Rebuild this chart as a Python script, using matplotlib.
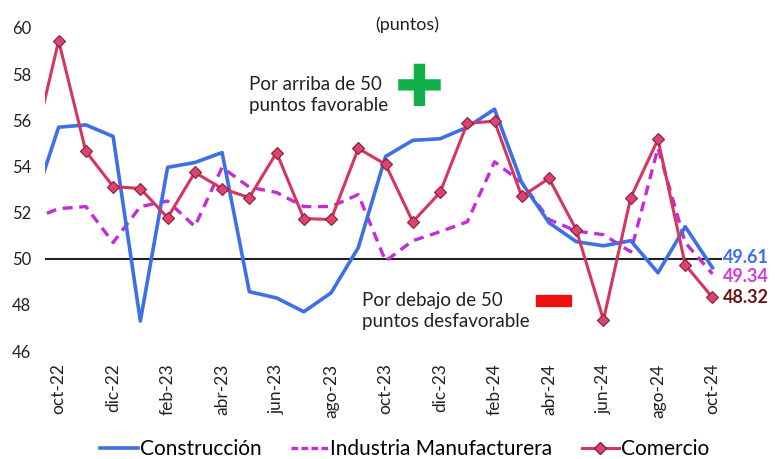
import matplotlib
matplotlib.use("Agg")
import matplotlib.pyplot as plt
from matplotlib.lines import Line2D
from matplotlib.patches import Rectangle

# monthly index, sep-22 .. oct-24 (sep-22 is clipped at the left edge)
months = ["sep-22", "oct-22", "nov-22", "dic-22", "ene-23", "feb-23", "mar-23", "abr-23",
          "may-23", "jun-23", "jul-23", "ago-23", "sep-23", "oct-23", "nov-23", "dic-23",
          "ene-24", "feb-24", "mar-24", "abr-24", "may-24", "jun-24", "jul-24", "ago-24",
          "sep-24", "oct-24"]

construccion = [52.1, 55.7, 55.8, 55.3, 47.3, 53.96, 54.17, 54.6, 48.57, 48.3, 47.7, 48.52,
                50.48, 54.43, 55.13, 55.2, 55.7, 56.48, 53.3, 51.56, 50.74, 50.56, 50.78,
                49.39, 51.39, 49.61]
industria = [51.7, 52.17, 52.26, 50.7, 52.26, 52.5, 51.4, 53.96, 53.1, 52.87, 52.26, 52.26,
             52.78, 49.9, 50.78, 51.17, 51.6, 54.2, 53.3, 51.7, 51.2, 51.04, 50.3, 54.8,
             50.7, 49.34]
comercio = [54.4, 59.45, 54.65, 53.13, 53.04, 51.78, 53.74, 53.04, 52.65, 54.6, 51.74, 51.7,
            54.78, 54.09, 51.6, 52.87, 55.87, 55.96, 52.7, 53.48, 51.26, 47.35, 52.65, 55.17,
            49.74, 48.32]

yticks = [46, 48, 50, 52, 54, 56, 58, 60]

C_BLUE = "#3d6fe6"
C_MAG = "#c62bd8"
C_RED = "#d5355f"

plt.rcParams["font.family"] = ["Lato", "DejaVu Sans"]

fig = plt.figure(figsize=(7.77, 4.59), dpi=100)
ax = fig.add_axes([45 / 777, 1 - 351 / 459, (722 - 45) / 777, (351 - 28) / 459])

x = list(range(-1, len(months) - 1))
ax.axhline(50, color="#222222", lw=1.5, zorder=1)
ax.plot(x, construccion, color=C_BLUE, lw=2.6, zorder=3)
ax.plot(x, industria, color=C_MAG, lw=2.4, ls=(0, (3, 2)), zorder=2)
ax.plot(x, comercio, color=C_RED, lw=2.2, marker="D", ms=6.5,
        markerfacecolor="#d9456c", markeredgecolor="#8c1c3e", markeredgewidth=0.8, zorder=4)

ax.set_xlim(-0.5, 24.35)
ax.set_ylim(46, 60)
ax.set_yticks(yticks)
ax.set_yticklabels([str(v) for v in yticks], fontsize=12, color="#222222")
tick_pos = list(range(0, 25, 2))
ax.set_xticks(tick_pos)
ax.set_xticklabels([months[i + 1] for i in tick_pos], rotation=90, fontsize=12.5,
                   color="#222222")
ax.tick_params(axis="x", length=0, pad=9)
ax.tick_params(axis="y", length=0, pad=10)
for s in ax.spines.values():
    s.set_visible(False)

# end labels
ax.text(24.4, construccion[-1] + 0.43, f"{construccion[-1]:.2f}", color=C_BLUE,
        fontsize=13, fontweight="bold", va="center", clip_on=False)
ax.text(24.4, industria[-1] - 0.12, f"{industria[-1]:.2f}", color="#d13bd8",
        fontsize=13, fontweight="bold", va="center", clip_on=False)
ax.text(24.4, comercio[-1], f"{comercio[-1]:.2f}", color="#6b1414",
        fontsize=13, fontweight="bold", va="center", clip_on=False)

# annotations
fig.text(407 / 777, 1 - 25 / 459, "(puntos)", ha="center", va="center", fontsize=13,
         color="#222222")
fig.text(249 / 777, 1 - 95 / 459, "Por arriba de 50\npuntos favorable", ha="left",
         va="center", fontsize=13.5, color="#222222", linespacing=1.3)
fig.text(362 / 777, 1 - 311 / 459, "Por debajo de 50\npuntos desfavorable", ha="left",
         va="center", fontsize=13.5, color="#222222", linespacing=1.3)
fig.text(419 / 777, 1 - 90 / 459, "\u271A", ha="center", va="center", fontsize=42,
         color="#12b04a", family=["DejaVu Sans"])
fig.patches.append(Rectangle((536 / 777, 1 - 306 / 459), 35 / 777, 11 / 459,
                             transform=fig.transFigure, color="#ee1111"))

handles = [
    Line2D([], [], color=C_BLUE, lw=2.6),
    Line2D([], [], color=C_MAG, lw=2.4, ls=(0, (2, 1))),
    Line2D([], [], color=C_RED, lw=2.2, marker="D", ms=6,
           markerfacecolor="#d9456c", markeredgecolor="#8c1c3e"),
]
fig.legend(handles, ["Construcción", "Industria Manufacturera", "Comercio"],
           loc="center", bbox_to_anchor=(405 / 777, 1 - 449 / 459), ncol=3, frameon=False,
           fontsize=15, handlelength=1.8, handletextpad=0.1, columnspacing=1.4)

fig.savefig("out.png", dpi=100)
